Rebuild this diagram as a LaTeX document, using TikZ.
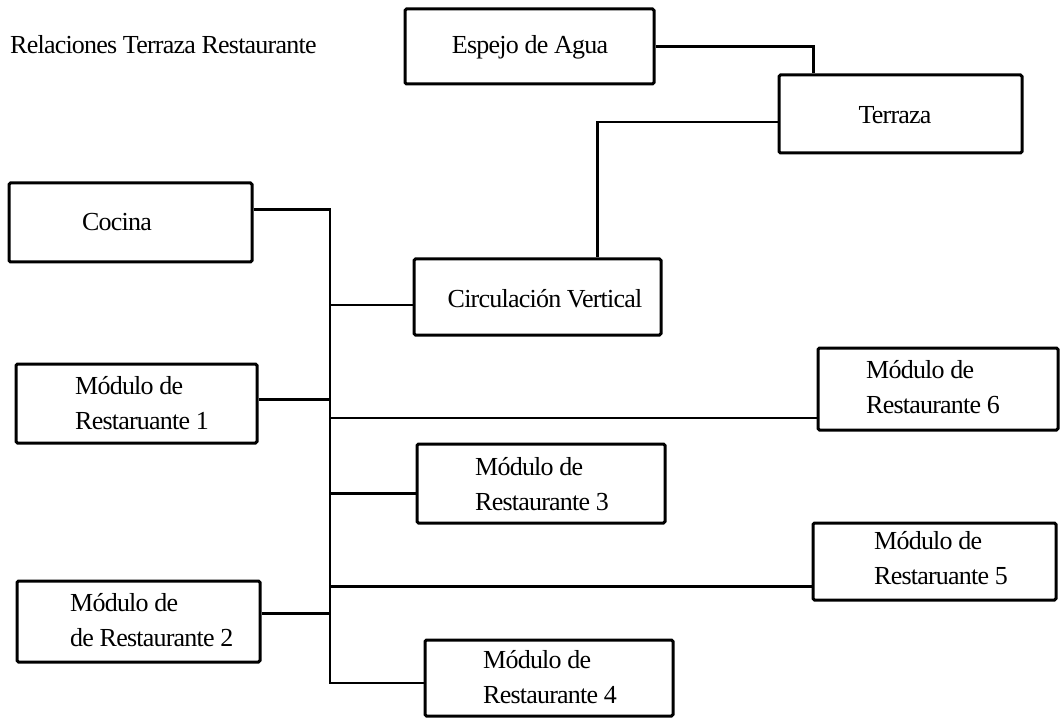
\documentclass[tikz,border=0pt]{standalone}
\usepackage{fontspec}
\setmainfont{Liberation Serif}[LetterSpace=-3]
\begin{document}
\begin{tikzpicture}[x=1pt,y=-1pt,
  box/.style={draw,line width=3pt,rounded corners=1.5pt,inner sep=0pt},
  txt/.style={inner sep=0pt,font=\fontsize{26}{35}\selectfont,align=left},
  conn/.style={line width=2.5pt}]
\useasboundingbox (0,0) rectangle (1060,719);
\fill[white] (0,0) rectangle (1060,719);

% title
\node[txt,anchor=west] (title) at (10,45) {Relaciones Terraza Restaurante};

% boxes
\node[box,minimum width=249pt,minimum height=75pt] (esp) at (529.5,46.5) {};
\node[box,minimum width=243pt,minimum height=78pt] (ter) at (900.5,114) {};
\node[box,minimum width=243pt,minimum height=79pt] (coc) at (130.5,222.5) {};
\node[box,minimum width=247pt,minimum height=76pt] (circ) at (537.5,297) {};
\node[box,minimum width=241pt,minimum height=79pt] (m1) at (136.5,403.5) {};
\node[box,minimum width=240pt,minimum height=82pt] (m6) at (938,389) {};
\node[box,minimum width=248pt,minimum height=79pt] (m3) at (541,483.5) {};
\node[box,minimum width=243pt,minimum height=77pt] (m5) at (934.5,561.5) {};
\node[box,minimum width=243pt,minimum height=81pt] (m2) at (138.5,621.5) {};
\node[box,minimum width=248pt,minimum height=76pt] (m4) at (549,678) {};

% texts
\node[txt] (tesp) at (530,47) {Espejo de Agua};
\node[txt] (tter) at (895,115) {Terraza};
\node[txt] (tcoc) at (117,222) {Cocina};
\node[txt] (tcirc) at (545,299) {Circulación Vertical};
\node[txt,anchor=west] (tm1) at (75,403) {Módulo de\\Restaruante 1};
\node[txt,anchor=west] (tm2) at (70,620) {Módulo de\\de Restaurante 2};
\node[txt,anchor=west] (tm3) at (475,484) {Módulo de\\Restaurante 3};
\node[txt,anchor=west] (tm4) at (483,677) {Módulo de\\Restaurante 4};
\node[txt,anchor=west] (tm5) at (874,558) {Módulo de\\Restaruante 5};
\node[txt,anchor=west] (tm6) at (866,387) {Módulo de\\Restaurante 6};

% connectors
\draw[conn] (esp.east) -| ([xshift=36pt]ter.north west);
\draw[conn] ([yshift=-8pt]ter.west) -| ([xshift=60pt]circ.north);

\coordinate (tb) at (330,683);
\draw[conn] ([yshift=13pt]coc.east) -| (tb) -- (tb -| m4.west);
\draw[conn] ([yshift=-8pt]circ.west) -- ([yshift=-8pt]circ.west -| tb);
\draw[conn] ([yshift=4pt]m1.east) -- ([yshift=4pt]m1.east -| tb);
\draw[conn] ([yshift=-29pt]m6.west) -- ([yshift=-29pt]m6.west -| tb);
\draw[conn] ([yshift=-10pt]m3.west) -- ([yshift=-10pt]m3.west -| tb);
\draw[conn] ([yshift=-25pt]m5.west) -- ([yshift=-25pt]m5.west -| tb);
\draw[conn] ([yshift=8pt]m2.east) -- ([yshift=8pt]m2.east -| tb);
\end{tikzpicture}
\end{document}
